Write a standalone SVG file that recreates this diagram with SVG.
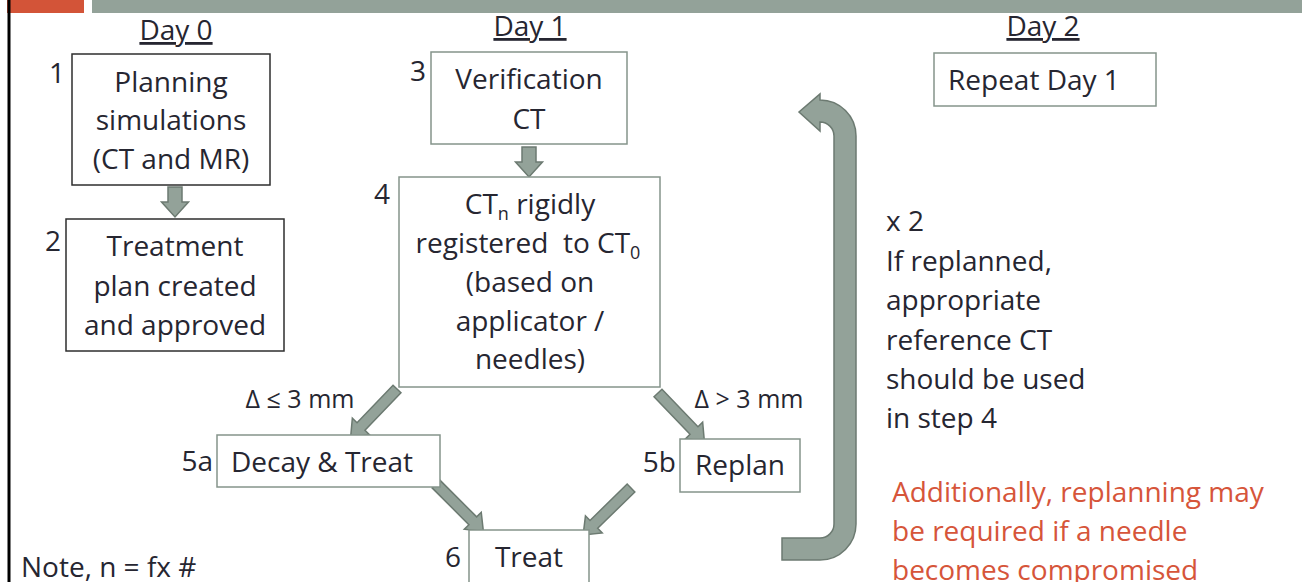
<svg xmlns="http://www.w3.org/2000/svg" width="1302" height="582" viewBox="0 0 1302 582">
<style>
  text { font-family: "Open Sans", "Liberation Sans", sans-serif; fill: #262631; }
  .t { font-size: 28px; text-anchor: middle; }
  .num { font-size: 28px; text-anchor: end; }
  .day { font-size: 28px; text-anchor: middle; text-decoration: underline; }
  .lbl { font-size: 25px; text-anchor: middle; }
  .note { font-size: 28px; }
  .red { font-size: 28px; fill: #d6553a; }
  .boxd { fill: #ffffff; stroke: #2e2e2e; stroke-width: 1.5; }
  .boxg { fill: #ffffff; stroke: #85948b; stroke-width: 1.5; }
  .arr { fill: #93a299; stroke: #6c7a71; stroke-width: 1.5; stroke-linejoin: miter; }
</style>
<defs>
  <path id="arrowV" d="M0,-7 L15,-7 L15,-13.5 L30,0 L15,13.5 L15,7 L0,7 Z"/>
  <path id="arrowD" d="M0,-5.5 L52,-5.5 L52,-12 L67,0 L52,12 L52,5.5 L0,5.5 Z"/>
</defs>
<rect x="0" y="0" width="1302" height="582" fill="#ffffff"/>
<rect x="7" y="0" width="77" height="13" fill="#d35438"/>
<rect x="92" y="0" width="1210" height="13" fill="#93a299"/>
<rect x="7.5" y="0" width="3" height="582" fill="#000000"/>

<text class="day" x="176" y="40">Day 0</text>
<text class="day" x="530" y="36">Day 1</text>
<text class="day" x="1043" y="36">Day 2</text>

<g id="connectors">
  <use href="#arrowV" class="arr" transform="translate(175,187) rotate(90)"/>
  <use href="#arrowV" class="arr" transform="translate(529,147) rotate(90)"/>
  <use href="#arrowD" class="arr" transform="translate(397,389) rotate(133.8)"/>
  <use href="#arrowD" class="arr" transform="translate(658,393) rotate(46.2)"/>
  <use href="#arrowD" class="arr" transform="translate(436,484) rotate(45)"/>
  <use href="#arrowD" class="arr" transform="translate(631,488) rotate(135.6)"/>
  <path class="arr" d="M782,560 L820,560 A36,36 0 0 0 856,524 L856,136 A36,36 0 0 0 820,100 L820,94 L799,112 L820,131 L820,122 A14,14 0 0 1 834,136 L834,524 A14,14 0 0 1 820,538 L782,538 Z"/>
  <text class="lbl" x="300" y="408">Δ ≤ 3 mm</text>
  <text class="lbl" x="749" y="408">Δ &gt; 3 mm</text>
</g>

<g id="node1">
  <rect class="boxd" x="72" y="54" width="198" height="131"/>
  <text class="num" x="65" y="83">1</text>
  <text class="t" x="171" y="92">Planning</text>
  <text class="t" x="171" y="130">simulations</text>
  <text class="t" x="171" y="169">(CT and MR)</text>
</g>
<g id="node2">
  <rect class="boxd" x="66" y="219" width="218" height="132"/>
  <text class="num" x="61" y="251">2</text>
  <text class="t" x="175" y="256">Treatment</text>
  <text class="t" x="175" y="296">plan created</text>
  <text class="t" x="175" y="335">and approved</text>
</g>
<g id="node3">
  <rect class="boxg" x="431" y="52" width="196" height="92"/>
  <text class="num" x="426" y="81">3</text>
  <text class="t" x="529" y="89">Verification</text>
  <text class="t" x="529" y="129">CT</text>
</g>
<g id="node4">
  <rect class="boxg" x="399" y="177" width="261" height="210"/>
  <text class="num" x="390" y="204">4</text>
  <text class="t" x="530" y="214">CT<tspan font-size="18" dy="6">n</tspan><tspan dy="-6"> rigidly</tspan></text>
  <text class="t" x="528" y="253" style="white-space:pre">registered  to CT<tspan font-size="18" dy="6">0</tspan></text>
  <text class="t" x="530" y="292">(based on</text>
  <text class="t" x="530" y="331">applicator /</text>
  <text class="t" x="530" y="369">needles)</text>
</g>
<g id="node5a">
  <rect class="boxg" x="217" y="435" width="223" height="52"/>
  <text class="num" x="213" y="471">5a</text>
  <text class="t" x="322" y="472">Decay &amp; Treat</text>
</g>
<g id="node5b">
  <rect class="boxg" x="680" y="439" width="120" height="53"/>
  <text class="num" x="676" y="472">5b</text>
  <text class="t" x="740" y="475">Replan</text>
</g>
<g id="node6">
  <rect class="boxg" x="469" y="530" width="120" height="70"/>
  <text class="num" x="461" y="567">6</text>
  <text class="t" x="529" y="567">Treat</text>
</g>
<g id="node-repeat">
  <rect class="boxg" x="934" y="53" width="222" height="53"/>
  <text class="note" x="948" y="90">Repeat Day 1</text>
</g>

<g id="notes">
  <text class="note" x="886" y="231">x 2</text>
  <text class="note" x="886" y="271">If replanned,</text>
  <text class="note" x="886" y="310">appropriate</text>
  <text class="note" x="886" y="350">reference CT</text>
  <text class="note" x="886" y="389">should be used</text>
  <text class="note" x="886" y="428">in step 4</text>
  <text class="red" x="892" y="502">Additionally, replanning may</text>
  <text class="red" x="892" y="541">be required if a needle</text>
  <text class="red" x="892" y="580">becomes compromised</text>
  <text class="note" x="21" y="577">Note, n = fx #</text>
</g>
</svg>
